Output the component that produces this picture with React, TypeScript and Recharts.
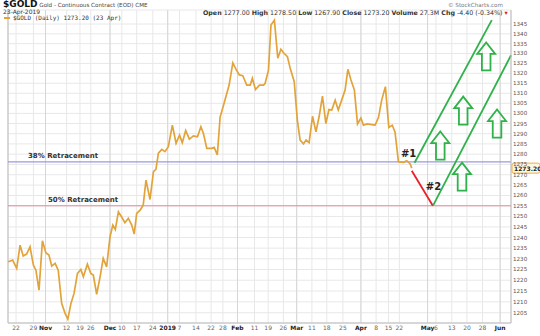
import React from "react";
import {
  LineChart,
  Line,
  XAxis,
  YAxis,
  CartesianGrid,
  ReferenceLine,
  ReferenceDot,
} from "recharts";

// trading-day position (0 = left edge of the chart) and daily close
const day = [
  0, 1.5, 2.8, 3.9, 4.9, 6.0, 7.1, 8.2, 9.0, 10.0, 11.1, 12.2, 13.2, 14.1, 15.2, 16.2, 17.3, 18.4, 19.3, 20.3,
  21.3, 22.4, 23.5, 24.3, 25.6, 26.7, 27.5, 28.6, 29.7, 30.7, 31.8, 32.9, 33.8, 34.6, 35.6, 36.7, 37.7, 38.8, 39.9, 40.7,
  41.5, 42.6, 43.6, 44.5, 45.8, 46.9, 47.7, 48.5, 49.6, 50.6, 51.7, 53.0, 54.2, 55.3, 56.2, 57.3, 58.5, 59.8, 61.1, 62.2,
  63.0, 64.1, 65.7, 66.5, 67.5, 68.4, 69.5, 71.3, 72.5, 73.5, 74.6, 75.7, 77.0, 78.1, 78.8, 79.8, 81.1, 82.4, 82.9, 84.0,
  84.8, 85.9, 87.0, 88.0, 89.0, 90.1, 91.0, 92.3, 93.3, 94.2, 95.3, 96.1, 97.1, 98.2, 99.3, 100.3, 101.4, 102.5, 103.5, 104.4,
  105.5, 106.5, 107.6, 108.7, 109.6, 110.6, 111.7, 112.7, 113.8, 114.6, 115.9, 117.3, 118.4, 119.5, 120.5, 121.7, 122.8, 123.9, 124.8, 125.9,
  127.5, 128.6, 129.7, 130.2,
];
const close = [
  1228.6, 1229.4, 1225.5, 1236.4, 1231.3, 1232.2, 1235.6, 1227.0, 1224.7, 1215.4, 1238.5, 1232.8, 1231.8, 1226.6, 1227.9, 1224.7, 1209.3, 1204.7, 1202.1, 1209.3,
  1213.9, 1223.2, 1225.0, 1221.6, 1227.5, 1223.2, 1222.4, 1213.5, 1221.6, 1230.2, 1226.2, 1240.4, 1245.9, 1243.8, 1252.2, 1249.6, 1247.0, 1249.1, 1245.9, 1241.6,
  1251.4, 1253.0, 1255.4, 1267.4, 1258.1, 1271.5, 1272.6, 1280.5, 1282.3, 1281.2, 1283.6, 1294.2, 1285.3, 1289.3, 1285.6, 1291.5, 1287.3, 1288.9, 1288.5, 1293.4,
  1290.2, 1282.8, 1282.8, 1283.3, 1279.6, 1298.2, 1304.0, 1314.1, 1325.2, 1322.1, 1319.2, 1318.8, 1314.1, 1314.1, 1317.5, 1311.9, 1314.1, 1314.1, 1314.9, 1321.6,
  1344.5, 1347.0, 1327.6, 1332.1, 1330.1, 1328.4, 1322.5, 1315.8, 1296.7, 1286.9, 1285.0, 1286.9, 1285.6, 1298.6, 1290.9, 1298.2, 1308.6, 1295.0, 1301.9, 1301.7,
  1306.6, 1301.7, 1306.6, 1311.6, 1322.0, 1316.6, 1311.6, 1294.8, 1297.7, 1294.2, 1294.8, 1294.5, 1294.2, 1298.2, 1306.6, 1313.3, 1293.1, 1294.2, 1290.9, 1276.3,
  1276.0, 1276.8, 1275.2, 1273.2,
];

const xTicks = [
  2.6, 8.2, 12.1, 18.9, 23.2, 26.7, 32.9, 36.7, 41.5, 46.7, 51.5, 55.3, 60.6, 65.5, 69.3, 74, 79.5,
  83.9, 88.8, 93.1, 98, 102.8, 108, 113.8, 118.7, 122.7, 126.2, 135.3, 138, 143.1, 148, 153, 158.7,
];
const xLabels = [
  "22", "29", "Nov", "12", "19", "26", "Dec", "10", "17", "24", "2019", "7", "14", "22", "28", "Feb", "11",
  "19", "26", "Mar", "11", "18", "25", "Apr", "8", "15", "22", "May", "6", "13", "20", "28", "Jun",
];
const monthLabels = ["Nov", "Dec", "2019", "Feb", "Mar", "Apr", "May", "Jun"];

const yTicks = [
  1205, 1210, 1215, 1220, 1225, 1230, 1235, 1240, 1245, 1250, 1255, 1260, 1265, 1270, 1275,
  1280, 1285, 1290, 1295, 1300, 1305, 1310, 1315, 1320, 1325, 1330, 1335, 1340, 1345,
];

// retracement levels
const levelNames = ["38% Retracement", "50% Retracement"];
const levelPrices = [1276.2, 1255.1];

// projected path: red leg down, then green channel
const redLeg = [{ x: 130.2, y: 1271.9 }, { x: 137.0, y: 1255.1 }];
const greenUpper = [{ x: 131.1, y: 1275.8 }, { x: 156.0, y: 1347.0 }];
const greenLower = [{ x: 137.1, y: 1255.3 }, { x: 162.2, y: 1329.1 }];

const arrowDay = [139.4, 146.4, 146.8, 154.2, 157.7];
const arrowPrice = [1284.2, 1269.1, 1301.4, 1328.5, 1295.0];

const lastClose = 1273.2;

const data = day.map((d, i) => ({ d, close: close[i] }));

const FONT = "'DejaVu Sans', Verdana, sans-serif";

const XTick = ({ x, y, payload }: any) => {
  const label = xLabels[xTicks.indexOf(payload.value)];
  const bold = monthLabels.includes(label);
  return (
    <text
      x={x}
      y={y + 6.5}
      textAnchor="middle"
      fontSize={6}
      fontFamily={FONT}
      fontWeight={bold ? 700 : 400}
      fill={bold ? "#222" : "#666"}
    >
      {label}
    </text>
  );
};

const Arrow = ({ cx, cy }: any) => {
  if (cx == null || cy == null) return null;
  const pts = [
    [0, -14], [9, -2.5], [4.3, -2.5], [4.3, 14], [-4.3, 14], [-4.3, -2.5], [-9, -2.5],
  ]
    .map(([a, b]) => `${cx + a},${cy + b}`)
    .join(" ");
  return <polygon points={pts} fill="none" stroke="#2fb24a" strokeWidth={1.8} />;
};

const marker = (txt: string) => ({ cx, cy }: any) =>
  cx == null ? null : (
    <text x={cx} y={cy + 4} textAnchor="middle" fontSize={10} fontWeight={700} fontFamily={FONT} fill="#222">
      {txt}
    </text>
  );

const PriceBox = ({ cx, cy }: any) =>
  cx == null ? null : (
    <g>
      <rect x={cx + 1} y={cy - 5} width={28} height={10} rx={2} fill="#fff6df" stroke="#e8b04a" strokeWidth={1} />
      <text x={cx + 3} y={cy + 2.5} fontSize={6} fontWeight={700} fontFamily={FONT} fill="#222">
        {lastClose.toFixed(2)}
      </text>
    </g>
  );

const levelLabel = (txt: string, dx: number) => ({ viewBox }: any) => (
  <text x={viewBox.x + dx} y={viewBox.y - 4} fontSize={7} fontFamily={FONT} fill="#333" fontWeight={600}>
    {txt}
  </text>
);

export default function App() {
  const small = { fontFamily: FONT, fontSize: 6.3, lineHeight: "8px", color: "#333", whiteSpace: "nowrap" as const };
  return (
    <div style={{ position: "absolute", left: 0, top: 0, width: 540, height: 336, background: "#fff", overflow: "hidden" }}>
      <LineChart width={540} height={336} data={data} margin={{ top: 10, right: 0, left: 8, bottom: 0 }}>
        <CartesianGrid stroke="#e8e8e8" strokeWidth={1} />
        <XAxis
          type="number"
          dataKey="d"
          domain={[0, 162.2]}
          ticks={xTicks}
          interval={0}
          tick={<XTick />}
          tickSize={0}
          tickMargin={0}
          tickLine={false}
          axisLine={{ stroke: "#bbb" }}
          height={13}
          allowDataOverflow
        />
        <YAxis
          orientation="right"
          type="number"
          scale="log"
          domain={[1200.3, 1352.2]}
          ticks={yTicks}
          interval={0}
          allowDataOverflow
          width={29}
          tickSize={0}
          tickMargin={2}
          tickLine={false}
          axisLine={{ stroke: "#bbb" }}
          tick={{ fontSize: 5.6, fill: "#555", fontFamily: FONT }}
        />
        {xTicks
          .filter((_, i) => monthLabels.includes(xLabels[i]))
          .map((t) => (
            <ReferenceLine key={t} x={t} stroke="#d6d6d6" strokeWidth={1} />
          ))}
        <ReferenceLine x={0} stroke="#bbb" />
        {levelPrices.map((p, i) => (
          <ReferenceLine
            key={p}
            y={p}
            stroke={i === 0 ? "#9a9ae0" : "#f0869a"}
            strokeWidth={1.2}
            label={levelLabel(levelNames[i], i === 0 ? 20 : 40)}
          />
        ))}
        <Line
          dataKey="close"
          type="linear"
          stroke="#e2a43a"
          strokeWidth={1.7}
          dot={false}
          isAnimationActive={false}
        />
        <ReferenceLine segment={redLeg} stroke="#e8202a" strokeWidth={1.8} />
        <ReferenceLine segment={greenUpper} stroke="#2fb24a" strokeWidth={1.8} />
        <ReferenceLine segment={greenLower} stroke="#2fb24a" strokeWidth={1.8} />
        {arrowDay.map((d, i) => (
          <ReferenceDot key={i} x={d} y={arrowPrice[i]} shape={<Arrow />} />
        ))}
        <ReferenceDot x={129.2} y={1280.7} shape={marker("#1")} />
        <ReferenceDot x={137.2} y={1264.5} shape={marker("#2")} />
        <ReferenceDot x={162.2} y={lastClose} shape={<PriceBox />} />
      </LineChart>

      <div style={{ position: "absolute", left: 3, top: 0, ...small, lineHeight: "9px" }}>
        <span style={{ fontWeight: 700, fontSize: 9, color: "#111" }}>$GOLD</span>
        <span style={{ fontSize: 5.6, color: "#444" }}> Gold - Continuous Contract (EOD) CME</span>
      </div>
      <div style={{ position: "absolute", left: 3, top: 8, ...small, fontSize: 6 }}>23-Apr-2019</div>
      <div style={{ position: "absolute", left: 4, top: 14, ...small }}>
        <span style={{ display: "inline-block", width: 6, height: 2, background: "#e2a43a", verticalAlign: "middle", marginRight: 3 }} />
        <span style={{ fontFamily: "'DejaVu Sans Mono', monospace", fontSize: 6 }}>$GOLD (Daily) 1273.20 (23 Apr)</span>
      </div>
      <div style={{ position: "absolute", left: 203, top: 9, ...small }}>
        <b>Open</b> 1277.00 <b>High</b> 1278.50 <b>Low</b> 1267.90 <b>Close</b> 1273.20 <b>Volume</b> 27.3M{" "}
        <b>Chg</b> -4.40 (-0.34%) <span style={{ color: "#d22" }}>▾</span>
      </div>
      <div style={{ position: "absolute", left: 448, top: 1, ...small, fontSize: 5.6, color: "#777" }}>
        © StockCharts.com
      </div>
    </div>
  );
}
